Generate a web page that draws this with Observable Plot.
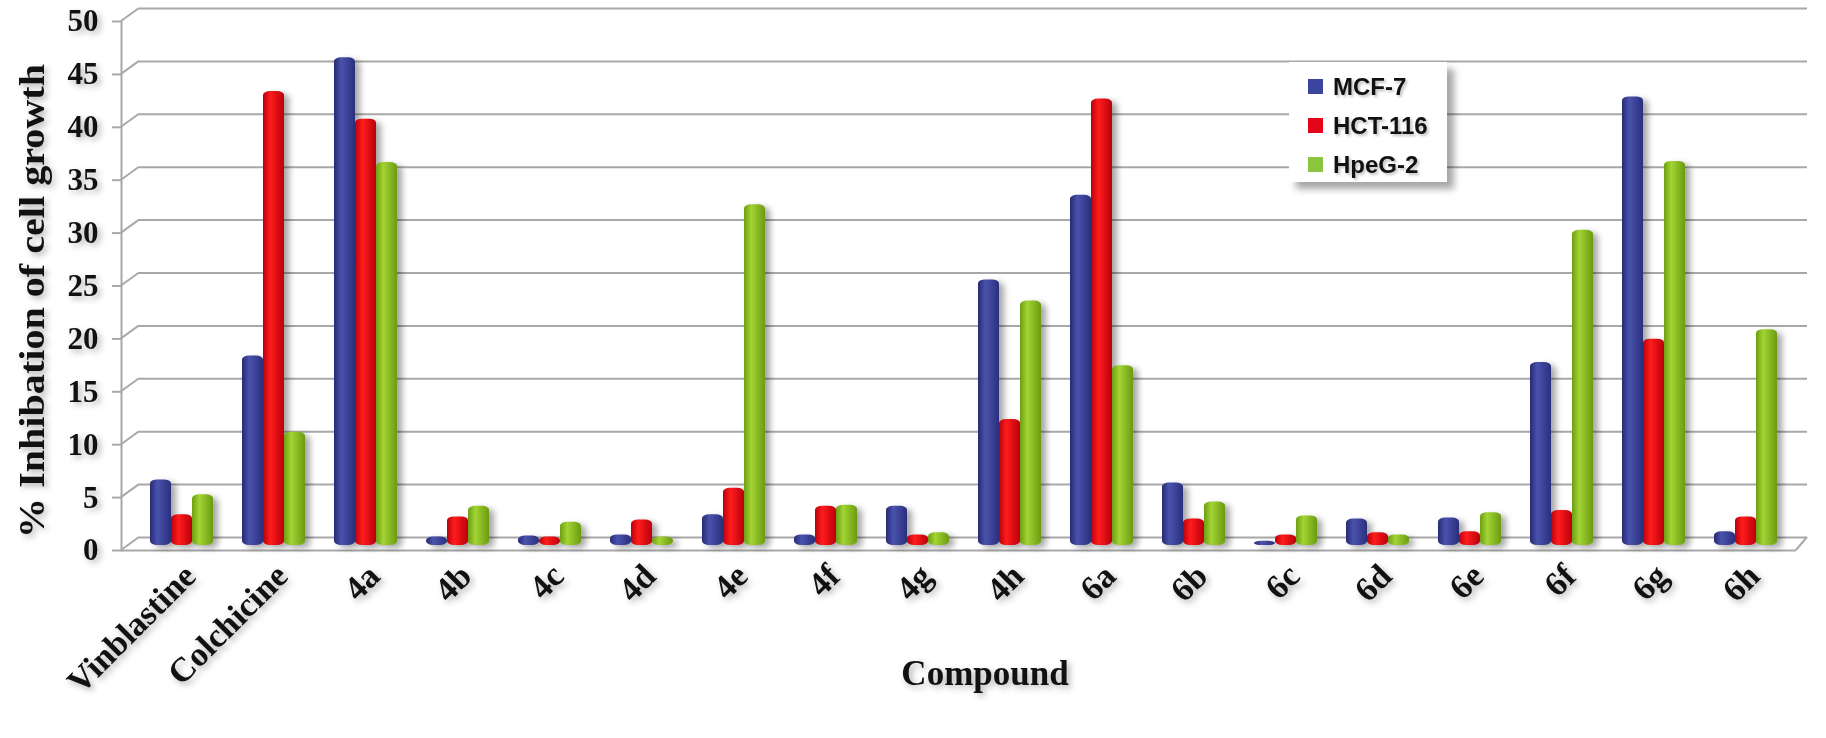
<!DOCTYPE html>
<html>
<head>
<meta charset="utf-8">
<script src="https://cdn.jsdelivr.net/npm/d3@7"></script>
<script src="https://cdn.jsdelivr.net/npm/@observablehq/plot@0.6"></script>
<style>
  html, body { margin: 0; padding: 0; background: #fff; }
  #wrap { position: relative; width: 1826px; height: 738px; }
  #legend {
    position: absolute; left: 1289px; top: 62px; width: 158px; height: 120px;
    background: #fff; box-shadow: 7px 7px 7px rgba(0,0,0,0.35);
    font-family: "Liberation Sans", Arial, sans-serif; font-weight: bold; font-size: 24px; color: #111;
    box-sizing: border-box; padding-top: 5px;
  }
  #legend .row { display: flex; align-items: center; height: 39px; padding-left: 19px; text-shadow: 2px 2px 3px rgba(0,0,0,0.25); }
  #legend .sw { width: 15px; height: 15px; margin-right: 10px; flex: none; }
</style>
</head>
<body>
<svg width="0" height="0" style="position:absolute">
  <defs>
    <linearGradient id="gBlue" x1="0" x2="1" y1="0" y2="0">
      <stop offset="0" stop-color="#262b72"/>
      <stop offset="0.35" stop-color="#4a52ad"/>
      <stop offset="1" stop-color="#2a2f7c"/>
    </linearGradient>
    <linearGradient id="gRed" x1="0" x2="1" y1="0" y2="0">
      <stop offset="0" stop-color="#b8000b"/>
      <stop offset="0.35" stop-color="#ff1c1c"/>
      <stop offset="1" stop-color="#bb000b"/>
    </linearGradient>
    <linearGradient id="gGreen" x1="0" x2="1" y1="0" y2="0">
      <stop offset="0" stop-color="#6c9e10"/>
      <stop offset="0.35" stop-color="#a2d435"/>
      <stop offset="1" stop-color="#6b9b10"/>
    </linearGradient>
  </defs>
</svg>
<div id="wrap"></div>
<script>
// ---- data ----
const compounds = ["Vinblastine","Colchicine","4a","4b","4c","4d","4e","4f","4g","4h","6a","6b","6c","6d","6e","6f","6g","6h"];
const seriesNames = ["MCF-7","HCT-116","HpeG-2"];
const mcf7   = [6.2, 17.9, 46.1, 0.8, 0.9, 1.0, 2.9, 1.0, 3.7, 25.1, 33.1, 5.9, 0.4, 2.5, 2.6, 17.3, 42.4, 1.3];
const hct116 = [2.9, 42.9, 40.3, 2.7, 0.8, 2.4, 5.4, 3.7, 1.0, 11.9, 42.2, 2.5, 1.0, 1.2, 1.3, 3.3, 19.5, 2.7];
const hepg2  = [4.8, 10.7, 36.2, 3.7, 2.2, 0.8, 32.2, 3.8, 1.2, 23.1, 17.0, 4.1, 2.8, 1.0, 3.1, 29.8, 36.3, 20.4];
const yTicks = [0, 5, 10, 15, 20, 25, 30, 35, 40, 45, 50];
const seriesColors = ["#3b45a0", "#e3061b", "#8cc63f"];
const seriesFills = ["url(#gBlue)", "url(#gRed)", "url(#gGreen)"];
const yTitle = "% Inhibation of cell growth";
const xTitle = "Compound";

const seriesValues = [mcf7, hct116, hepg2];
const rows = [];
seriesNames.forEach((s, si) => compounds.forEach((c, ci) => rows.push({compound: c, series: s, value: seriesValues[si][ci]})));

const grid = "#a8a8a8";
const barW = 21;

const barMarks = seriesNames.map((s, si) =>
  Plot.barY(rows.filter(d => d.series === s), {
    x: "compound", y: "value", fill: seriesFills[si],
    dx: (si - 1) * barW, dy: -5, rx: 7, ry: 4
  })
);

const plot = Plot.plot({
  width: 1826,
  height: 738,
  marginLeft: 121,
  marginRight: 30,
  marginTop: 21,
  marginBottom: 188,
  style: {fontFamily: "'Liberation Serif', 'Times New Roman', serif", fontWeight: "bold", color: "#111", background: "transparent"},
  x: {domain: compounds, paddingInner: 0.773, paddingOuter: 0.3865, insetLeft: 9, label: null},
  y: {domain: [0, 50], label: null},
  marks: [
    Plot.ruleY(yTicks, {dy: -13, insetLeft: 18, insetRight: -11, stroke: grid, strokeWidth: 2}),
    Plot.ruleY([0], {stroke: grid, strokeWidth: 2}),
    Plot.frame({anchor: "left", stroke: grid, strokeWidth: 2}),
    Plot.axisY({ticks: yTicks, tickSize: 9, tickPadding: 14, fontSize: 31, stroke: grid, strokeWidth: 2, label: null}),
    Plot.axisX({tickRotate: -45, tickSize: 0, tickPadding: 20, dx: 8, fontSize: 34, label: null}),
    ...barMarks,
    Plot.text([yTitle], {text: d => d, frameAnchor: "left", textAnchor: "middle", lineAnchor: "middle", rotate: -90, dx: -89, dy: 15, fontSize: 35, fontWeight: "bold"}),
    Plot.text([xTitle], {text: d => d, frameAnchor: "bottom", textAnchor: "middle", lineAnchor: "middle", dx: 26, dy: 123, fontSize: 35, fontWeight: "bold"})
  ]
});

document.getElementById("wrap").appendChild(plot);

// 3D-style connectors from front axis ticks to back-wall gridlines, computed from the y scale
const ys = plot.scale("y");
const svg = d3.select(plot);
const conn = svg.append("g").attr("stroke", grid).attr("stroke-width", 2);
yTicks.forEach(t => {
  const y = ys.apply(t);
  conn.append("line").attr("x1", 121).attr("y1", y).attr("x2", 139).attr("y2", y - 13);
});
const y0 = ys.apply(0);
conn.append("line").attr("x1", 1796).attr("y1", y0).attr("x2", 1807).attr("y2", y0 - 13);

// stretch the y title along its length like the reference
svg.selectAll("text").filter(function() { return this.textContent === yTitle; })
  .attr("textLength", 474).attr("lengthAdjust", "spacingAndGlyphs");

// shadows
svg.selectAll('g[aria-label="bar"]').style("filter", "drop-shadow(5px 3px 3px rgba(0,0,0,0.35))");
svg.selectAll('g[aria-label="y-axis tick label"], g[aria-label="x-axis tick label"], g[aria-label="text"]').style("filter", "drop-shadow(3px 3px 3px rgba(0,0,0,0.3))");

// legend
const legend = document.createElement("div");
legend.id = "legend";
seriesNames.forEach((s, i) => {
  const row = document.createElement("div");
  row.className = "row";
  const sw = document.createElement("span");
  sw.className = "sw";
  sw.style.background = seriesColors[i];
  row.appendChild(sw);
  row.appendChild(document.createTextNode(s));
  legend.appendChild(row);
});
document.getElementById("wrap").appendChild(legend);
</script>
</body>
</html>
